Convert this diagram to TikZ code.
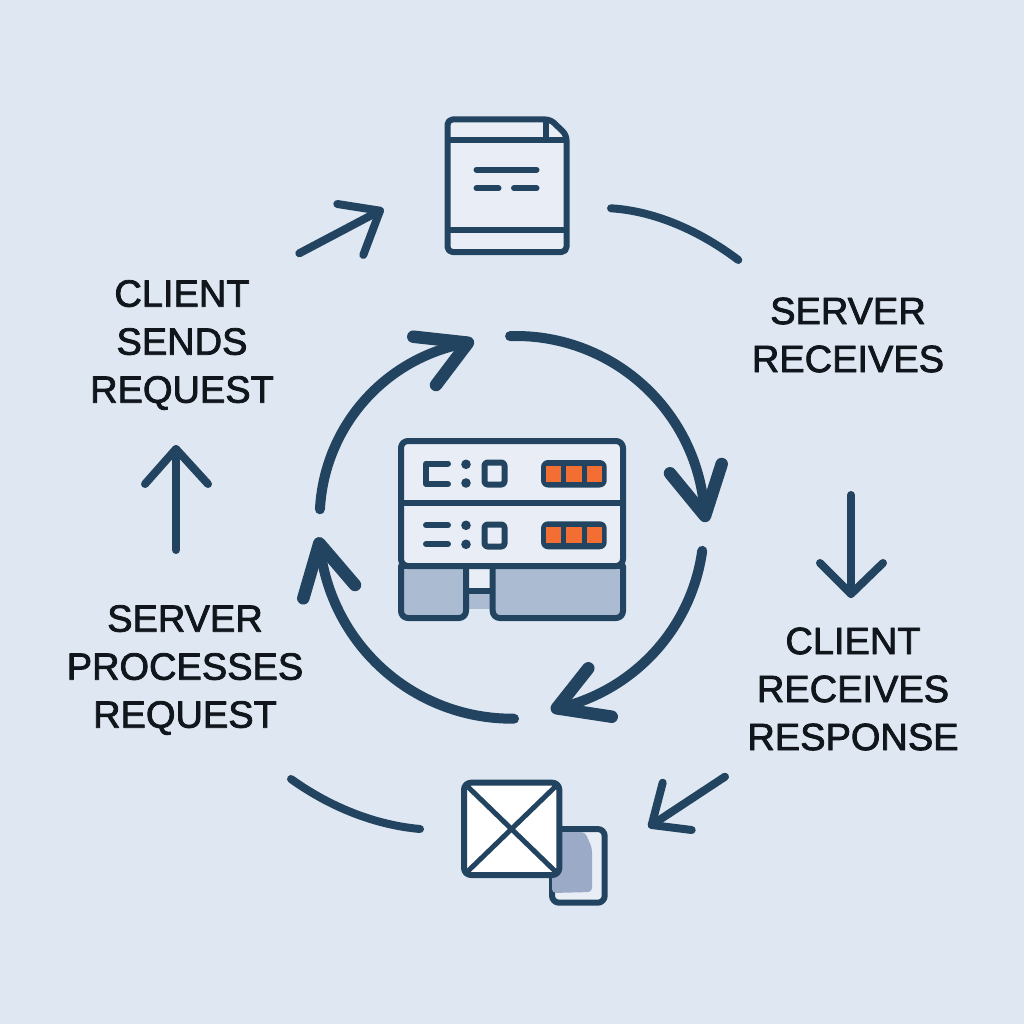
\documentclass[tikz,border=0pt]{standalone}
\usepackage{fontspec}
\newfontfamily\labelfont{Liberation Sans}
\definecolor{bg}{HTML}{DFE8F2}
\definecolor{ink}{HTML}{234460}
\definecolor{txt}{HTML}{10161C}
\definecolor{panel}{HTML}{E9EEF6}
\definecolor{slate}{HTML}{ABBBD2}
\definecolor{slatedark}{HTML}{9BAAC6}
\definecolor{signal}{HTML}{F36E32}
\tikzset{
  icon/.style={draw=ink,line width=6pt,line join=round,line cap=round},
  bigarc/.style={draw=ink,line width=10pt,line cap=round,line join=round},
  bighead/.style={draw=ink,line width=12.5pt,line cap=round,line join=round},
  thinflow/.style={draw=ink,line width=8pt,line cap=round,line join=round},
  caption/.style={text=txt,font=\labelfont\fontsize{38pt}{48pt}\selectfont,align=center,inner sep=0pt,
    execute at begin node={\special{pdf:code q 2 Tr 0.8 w 1 j 0.063 0.086 0.11 RG}},
    execute at end node={\special{pdf:code Q}}},
  pill/.style={fill=ink,rounded corners=7pt},
  led/.style={fill=signal},
  dot/.style={fill=ink}
}
\begin{document}
\begin{tikzpicture}[x=1pt,y=-1pt]
\useasboundingbox (0,0) rectangle (1024,1024);
\fill[bg] (0,0) rectangle (1024,1024);

% Document icon
\path[fill=panel] (447.5,125) [rounded corners=5pt] -- (447.5,119.5) -- (550.5,119.5) [sharp corners] -- (566.5,135) [rounded corners=5pt] -- (566.5,252) -- (447.5,252) -- cycle;
\draw[icon,rounded corners=5pt] (447.5,130) -- (447.5,119.5) -- (550.5,119.5) -- (566.5,135) -- (566.5,252) -- (447.5,252) -- cycle;
\draw[icon,line cap=butt] (545.5,119.5) -- (545.5,140);
\draw[icon,line cap=butt] (447.5,140) -- (566.5,140);
\draw[icon,line cap=butt] (447.5,230.5) -- (566.5,230.5);
\draw[icon] (476.5,169.7) -- (536.5,169.7);
\draw[icon] (476.5,188.3) -- (498.5,188.3);
\draw[icon] (514,188.3) -- (536.5,188.3);

% Server icon: lower panels
\path[fill=panel] (466,566) rectangle (492.7,592);
\path[fill=slate] (466,592) rectangle (492.7,609);
\path[fill=slate,rounded corners=6pt] (401,566) -- (401,618) -- (466,618) -- (466,566) -- cycle;
\path[fill=slate,rounded corners=6pt] (492.7,566) -- (492.7,618) -- (623,618) -- (623,566) -- cycle;
\draw[icon,rounded corners=7pt] (401,566) -- (401,618) -- (466,618) -- (466,566);
\draw[icon,rounded corners=7pt] (492.7,566) -- (492.7,618) -- (623,618) -- (623,566);
\draw[icon,line cap=butt] (466,591) -- (492.7,591);
% Server icon: upper racks
\draw[icon,fill=panel,rounded corners=7pt] (401,566) -- (401,441) -- (623,441) -- (623,566) -- cycle;
\draw[icon,line cap=butt] (401,503) -- (623,503);
\draw[icon,line cap=butt] (401,566) -- (623,566);
% Rack 1 indicators
\draw[icon] (448,463.5) -- (426,463.5) -- (426,484) -- (448,484);
\fill[dot] (466,464.3) circle (4.8pt) (466,483) circle (4.8pt);
\draw[icon,rounded corners=3pt] (484.5,462.5) rectangle (504.5,484.5);
\path[pill] (541,460) rectangle (606.7,487.5);
\path[led] (546,465.7) rectangle (561,482);
\path[led] (566.3,465.7) rectangle (581.7,482);
\path[led] (586.7,465.7) rectangle (601.7,482);
% Rack 2 indicators
\draw[icon] (426,525.3) -- (448,525.3);
\draw[icon] (426,544) -- (448,544);
\fill[dot] (466,525.3) circle (4.8pt) (466,544.3) circle (4.8pt);
\draw[icon,rounded corners=3pt] (484.5,524.5) rectangle (504.5,546.5);
\path[pill] (541,521.3) rectangle (606.7,549.3);
\path[led] (546,527) rectangle (561,543.3);
\path[led] (566.3,527) rectangle (581.7,543.3);
\path[led] (586.7,527) rectangle (601.7,543.3);

% Envelope icon with attachment card
\draw[icon,fill=panel,rounded corners=7pt] (552,829) rectangle (604.7,902.7);
\path[fill=slatedark,rounded corners=4pt] (552,832) -- (585,832) -- (592,848) -- (592,892) -- (552,893) -- cycle;
\draw[icon,fill=white,rounded corners=7pt] (464,782.7) rectangle (559.3,875);
\draw[icon,line width=5pt] (466,785) -- (557,873);
\draw[icon,line width=5pt] (557,785) -- (466,873);

% Inner cycle: four circular arcs, each ending in an open chevron
\draw[bigarc] plot[domain=-91.8:-5.5,samples=60] ({516+189*cos(\x)},{525+189*sin(\x)});
\coordinate (ha) at (705,516);
\coordinate (ha1) at (670,473.3);
\coordinate (ha2) at (721.7,464);
\draw[bighead] (ha1) -- (ha) -- (ha2);

\draw[bigarc] plot[domain=7.9:77.1,samples=60] ({516+188*cos(\x)},{525+188*sin(\x)});
\coordinate (hb) at (556.7,708.3);
\coordinate (hb1) at (588.3,668.3);
\coordinate (hb2) at (611.7,716.7);
\draw[bighead] (hb1) -- (hb) -- (hb2);

\draw[bigarc] plot[domain=89.4:173.3,samples=60] ({512+193.2*cos(\x)},{525.5+193.2*sin(\x)});
\coordinate (hc) at (319.3,543.3);
\coordinate (hc1) at (355,585);
\coordinate (hc2) at (303.3,598.3);
\draw[bighead] (hc1) -- (hc) -- (hc2);

\draw[bigarc] plot[domain=183:259,samples=60] ({498+178.3*cos(\x)},{518.6+178.3*sin(\x)});
\coordinate (hd) at (468,342.7);
\coordinate (hd1) at (413.3,336.7);
\coordinate (hd2) at (436,385);
\draw[bighead] (hd1) -- (hd) -- (hd2);

% Outer cycle
\coordinate (ta) at (299.3,253.3);
\coordinate (tb) at (380,210.7);
\coordinate (tb1) at (337.3,204);
\coordinate (tb2) at (363.3,255);
\draw[thinflow] (ta) -- (tb);
\draw[thinflow] (tb1) -- (tb) -- (tb2);

\coordinate (ra) at (611,208.3);
\coordinate (rb) at (738.3,260);
\draw[thinflow] (ra) .. controls (655,211) and (700,231) .. (rb);

\coordinate (da) at (851,495);
\coordinate (db) at (851,594);
\coordinate (db1) at (820,563);
\coordinate (db2) at (883,563);
\draw[thinflow] (da) -- (db);
\draw[thinflow] (db1) -- (db) -- (db2);

\coordinate (la) at (725,776.7);
\coordinate (lb) at (651.7,825);
\coordinate (lb1) at (662.7,782.7);
\coordinate (lb2) at (691.7,830);
\draw[thinflow] (la) -- (lb);
\draw[thinflow] (lb1) -- (lb) -- (lb2);

\coordinate (pa) at (291,779);
\coordinate (pb) at (420,829);
\draw[thinflow] (pa) .. controls (330,807) and (375,825) .. (pb);

\coordinate (ua) at (176,550);
\coordinate (ub) at (176,449);
\coordinate (ub1) at (145,484);
\coordinate (ub2) at (208,484);
\draw[thinflow] (ua) -- (ub);
\draw[thinflow] (ub1) -- (ub) -- (ub2);

% Step captions
\node[caption] (send) at (182,345) {CLIENT\\SENDS\\REQUEST};
\node[caption] (recv) at (848,335) {SERVER\\RECEIVES};
\node[caption] (resp) at (853,689) {CLIENT\\RECEIVES\\RESPONSE};
\node[caption] (proc) at (185,670) {SERVER\\PROCESSES\\REQUEST};
\end{tikzpicture}
\end{document}
